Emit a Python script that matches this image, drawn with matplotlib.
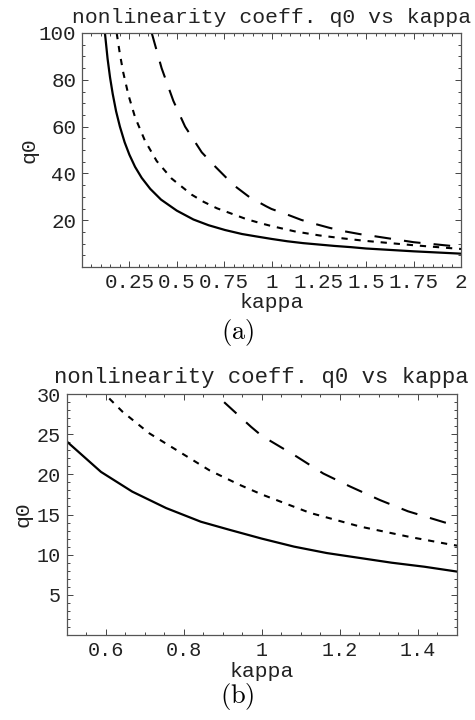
"""q0 vs kappa, two zoom levels, Mathematica-style frame."""

import matplotlib
matplotlib.use("Agg")
import matplotlib.pyplot as plt
from matplotlib.ticker import MultipleLocator

# values
kappa_solid = [0.121, 0.135, 0.148, 0.162, 0.18, 0.2, 0.225, 0.25, 0.28, 0.315, 0.36,
               0.417, 0.5, 0.588, 0.668, 0.755, 0.844, 0.917, 1.0, 1.083, 1.167,
               1.25, 1.333, 1.417, 1.5, 1.75, 2.0]
q0_solid = [100, 89, 81, 74, 66.5, 60, 53.3, 48, 42.8, 38.1, 33.4,
            28.8, 24.1, 20.3, 17.85, 15.8, 14.1, 13.1, 12.0, 11.0, 10.2,
            9.6, 9.0, 8.5, 7.9, 6.7, 5.7]

kappa_dot = [0.183, 0.2, 0.218, 0.245, 0.28, 0.332, 0.394, 0.473, 0.579, 0.643, 0.712,
             0.789, 0.866, 0.943, 1.0, 1.124, 1.252, 1.38, 1.491, 1.75, 2.0]
q0_dot = [100, 91, 83, 73.5, 64, 54, 45.3, 37.8, 30.9, 27.8, 25.1,
          22.8, 20.5, 18.7, 17.5, 15.2, 13.5, 12.2, 11.2, 9.3, 7.7]

kappa_dash = [0.368, 0.42, 0.482, 0.544, 0.632, 0.702, 0.8, 0.883, 0.973, 1.0, 1.09,
              1.158, 1.226, 1.303, 1.375, 1.47, 1.5, 1.75, 2.0]
q0_dash = [100, 85, 71, 60, 49, 43, 35, 29.9, 25.9, 24.8, 22.2,
           20.1, 18.5, 16.8, 15.4, 14.0, 13.7, 10.6, 8.6]

xticks_a = [0.25, 0.5, 0.75, 1, 1.25, 1.5, 1.75, 2]
xlabels_a = ["0.25", "0.5", "0.75", "1", "1.25", "1.5", "1.75", "2"]
yticks_a = [20, 40, 60, 80, 100]

xticks_b = [0.6, 0.8, 1.0, 1.2, 1.4]
xlabels_b = ["0.6", "0.8", "1", "1.2", "1.4"]
yticks_b = [5, 10, 15, 20, 25, 30]

TITLE = "nonlinearity coeff. q0 vs kappa"
MONO = "Liberation Mono"
plt.rcParams["mathtext.fontset"] = "cm"

W, H = 475, 720
fig = plt.figure(figsize=(W / 100, H / 100), dpi=100)


def px_axes(x0, y0, x1, y1):
    # axes box from pixel corners (top-left origin)
    return fig.add_axes([x0 / W, 1 - y1 / H, (x1 - x0) / W, (y1 - y0) / H])


def draw_panel(ax, xlim, ylim, xticks, xlabels, yticks, xminor, yminor,
               tick_fs, title_fs, label_fs, ylab_x):
    ax.plot(kappa_solid, q0_solid, color="k", lw=1.6)
    ax.plot(kappa_dot, q0_dot, color="k", lw=1.5, ls=(0, (3.0, 3.3)))
    ax.plot(kappa_dash, q0_dash, color="k", lw=1.5, ls=(0, (8, 6.3)))
    ax.set_xlim(*xlim)
    ax.set_ylim(*ylim)
    ax.set_xticks(xticks)
    ax.set_xticklabels(xlabels)
    ax.set_yticks(yticks)
    ax.set_yticklabels([str(v) for v in yticks])
    ax.xaxis.set_minor_locator(MultipleLocator(xminor))
    ax.yaxis.set_minor_locator(MultipleLocator(yminor))
    ax.tick_params(which="both", direction="in", top=True, right=True,
                   color="#444444", width=0.7)
    ax.tick_params(which="major", length=4, pad=4, labelsize=tick_fs, labelcolor="#222222")
    ax.tick_params(which="minor", length=2)
    for lab in ax.get_xticklabels() + ax.get_yticklabels():
        lab.set_family(MONO)
    for sp in ax.spines.values():
        sp.set_color("#555555")
        sp.set_linewidth(0.9)
    ax.text(0.5, 1.068, TITLE, transform=ax.transAxes, ha="center", va="center",
            family=MONO, fontsize=title_fs, color="#222222")
    ax.set_xlabel("kappa", family=MONO, fontsize=label_fs, color="#222222")
    ax.set_ylabel("q0", family=MONO, fontsize=label_fs, color="#222222")
    ax.xaxis.label.set_va("center")
    ax.yaxis.label.set_va("center")
    ax.xaxis.set_label_coords(0.5, -0.15)
    ax.yaxis.set_label_coords(ylab_x, 0.5)


ax_a = px_axes(82, 33, 461, 267)
draw_panel(ax_a, (0, 2), (0, 100), xticks_a, xlabels_a, yticks_a, 0.05, 5,
           15, 15.4, 15.4, -0.14)

ax_b = px_axes(66.7, 394, 456.7, 635)
draw_panel(ax_b, (0.5, 1.5), (0, 30), xticks_b, xlabels_b, yticks_b, 0.05, 1,
           14.5, 16, 15.4, -0.112)

fig.text(0.5, 1 - 333 / H, r"$\mathrm{(a)}$", ha="center", va="center", fontsize=19)
fig.text(0.5, 1 - 697 / H, r"$\mathrm{(b)}$", ha="center", va="center", fontsize=19)

fig.savefig("out.png", dpi=100)
